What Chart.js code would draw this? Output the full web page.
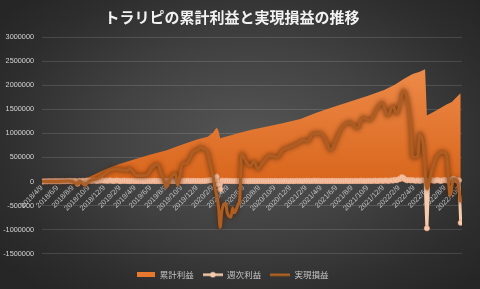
<!DOCTYPE html>
<html>
<head>
<meta charset="utf-8">
<script src="https://cdn.jsdelivr.net/npm/chart.js@4"></script>
<style>
html,body{margin:0;padding:0;}
body{width:480px;height:289px;overflow:hidden;
background:radial-gradient(ellipse 65% 70% at 52% 48%, #555555 0%, #424242 45%, #2e2e2e 80%, #262626 100%);}
#wrap{position:relative;width:480px;height:289px;}
</style>
</head>
<body>
<div id="wrap"><canvas id="c" width="480" height="289"></canvas></div>
<script>
const chartTitle = 'トラリピの累計利益と実現損益の推移';
const seriesNames = ['累計利益', '週次利益', '実現損益'];
const tickLabels = ['2018/4/9','2018/6/9','2018/8/9','2018/10/9','2018/12/9','2019/2/9','2019/4/9','2019/6/9','2019/8/9','2019/10/9','2019/12/9','2020/2/9','2020/4/9','2020/6/9','2020/8/9','2020/10/9','2020/12/9','2021/2/9','2021/4/9','2021/6/9','2021/8/9','2021/10/9','2021/12/9','2022/2/9','2022/4/9','2022/6/9','2022/8/9','2022/10/9'];
const startDate = '2018/4/9';

// 累計利益 (week number since start, value)
const cumWeeks = [0,8,17,23,26,31,36,43,52,61,70,78,87,93,96,98,99,100,104,111,117,125,135,145,154,163,173,183,192,198,203,208,212,215,216,221,227,230,234,235];
const cumValues = [0,10000,30000,60000,90000,170000,260000,360000,460000,560000,650000,760000,870000,930000,1020000,1120000,1060000,900000,940000,1010000,1070000,1130000,1210000,1300000,1430000,1540000,1660000,1780000,1900000,2010000,2130000,2230000,2280000,2330000,1370000,1470000,1600000,1650000,1800000,1830000];

// 実現損益 (week number, value)
const realWeeks = [0,8,15,17,20,21,24,27,31,35,38,42,44,48,49,53,56,59,62,65,67,69,70,72,75,76,79,81,85,87,89,90,93,94,96,97,99,100,101,103,104,106,107,108,110,111,112,114,115,117,119,121,124,128,132,135,139,143,147,149,152,156,159,162,166,169,173,177,180,184,188,191,194,197,199,203,205,207,208,211,212,214,216,219,222,225,227,229,231,233,235];
const realValues = [0,0,10000,0,-60000,10000,-70000,20000,60000,150000,230000,260000,245000,230000,265000,130000,120000,140000,300000,360000,150000,-40000,-115000,60000,160000,-70000,370000,380000,620000,650000,710000,690000,600000,430000,100000,-115000,-500000,-950000,-600000,-450000,-650000,-740000,-550000,-650000,-480000,-350000,580000,450000,380000,320000,420000,260000,400000,540000,500000,650000,715000,780000,860000,830000,990000,1000000,880000,650000,960000,1150000,1230000,1100000,1330000,1270000,1510000,1640000,1360000,1580000,1400000,1890000,1700000,1100000,500000,520000,1000000,750000,-150000,260000,540000,610000,550000,-290000,60000,20000,-430000];

// 週次利益 (one value per week, week 0 .. 235)
const weeklyValues = [
0,2000,5000,3000,8000,4000,6000,9000,5000,7000,3000,8000,
10000,6000,12000,9000,15000,4000,11000,8000,-45000,14000,10000,16000,
-35000,18000,12000,20000,15000,22000,17000,13000,21000,19000,24000,16000,
20000,14000,23000,18000,12000,17000,21000,15000,9000,13000,19000,11000,
14000,8000,12000,16000,10000,13000,9000,15000,11000,7000,12000,10000,
14000,9000,11000,16000,8000,12000,10000,13000,7000,15000,11000,9000,
17000,12000,14000,10000,19000,13000,16000,11000,15000,12000,18000,10000,
13000,16000,12000,11000,14000,9000,15000,12000,17000,20000,25000,30000,
40000,35000,95000,-60000,-160000,20000,15000,12000,18000,10000,14000,11000,
9000,13000,8000,12000,10000,15000,9000,11000,7000,13000,10000,12000,
8000,11000,14000,9000,12000,7000,10000,13000,8000,11000,9000,14000,
10000,8000,12000,9000,11000,15000,8000,10000,13000,9000,12000,16000,
11000,14000,10000,13000,17000,12000,15000,11000,14000,18000,12000,16000,
13000,10000,15000,12000,9000,14000,11000,16000,12000,10000,15000,13000,
11000,14000,12000,17000,10000,13000,15000,11000,16000,12000,14000,18000,
13000,15000,11000,17000,14000,12000,16000,19000,13000,15000,20000,14000,
17000,22000,15000,18000,24000,20000,35000,28000,45000,60000,90000,70000,
40000,25000,30000,22000,28000,20000,18000,24000,15000,22000,26000,30000,
-970000,20000,35000,25000,18000,22000,28000,20000,15000,25000,30000,22000,
18000,20000,45000,60000,30000,20000,25000,-855000];

function dayOf(s){const p=s.split('/').map(Number);return Date.UTC(p[0],p[1]-1,p[2])/86400000;}
const day0 = dayOf(startDate);
const tickDays = tickLabels.map(s => dayOf(s) - day0);

const cumPts = cumWeeks.map((w,i)=>({x:w*7,y:cumValues[i]}));
const realPts = realWeeks.map((w,i)=>({x:w*7,y:realValues[i]}));
const weekPts = weeklyValues.map((v,i)=>({x:i*7,y:v}));

function icon(w,h,draw){const c=document.createElement('canvas');c.width=w;c.height=h;draw(c.getContext('2d'));return c;}
const icons = [
  icon(18,5,g=>{g.fillStyle='#E8782E';g.fillRect(0,0,18,5);}),
  icon(20,7,g=>{g.strokeStyle='#F8CBAD';g.lineWidth=2.5;g.beginPath();g.moveTo(0,3.5);g.lineTo(20,3.5);g.stroke();g.fillStyle='#F8CBAD';g.beginPath();g.arc(10,3.5,2.8,0,Math.PI*2);g.fill();}),
  icon(20,4,g=>{g.strokeStyle='#B2611F';g.lineWidth=2.5;g.beginPath();g.moveTo(0,2);g.lineTo(20,2);g.stroke();})
];

const glow = {
  id:'glow',
  beforeDatasetDraw(chart,args){const ds=chart.data.datasets[args.index];if(ds.glow){const c=chart.ctx;c.save();c.shadowColor=ds.glow.color;c.shadowBlur=ds.glow.blur;c.shadowOffsetX=ds.glow.dx||0;c.shadowOffsetY=ds.glow.dy||0;}},
  afterDatasetDraw(chart,args){if(chart.data.datasets[args.index].glow)chart.ctx.restore();}
};

const CJK = "'Noto Sans CJK JP', 'Noto Sans', sans-serif";
const LAT = "'Liberation Sans', Arial, sans-serif";

new Chart(document.getElementById('c'), {
  type:'line',
  data:{datasets:[
    {label:seriesNames[0], data:cumPts, fill:'origin', borderWidth:0, pointRadius:0, order:3,
     backgroundColor:(ctx)=>{const ca=ctx.chart.chartArea;if(!ca)return '#E0701F';const ys=ctx.chart.scales.y;const g=ctx.chart.ctx.createLinearGradient(0,ys.getPixelForValue(2400000),0,ys.getPixelForValue(0));g.addColorStop(0,'#EE8B4A');g.addColorStop(1,'#D9661C');return g;},
     glow:{color:'rgba(0,0,0,0.55)',blur:5,dx:1,dy:1}},
    {label:seriesNames[1], data:weekPts, borderColor:'#F8CBAD', borderWidth:3, pointRadius:2.6, pointBorderWidth:0.8,
     pointBackgroundColor:'#F8CBAD', pointBorderColor:'#EBA887', tension:0, order:2},
    {label:seriesNames[2], data:realPts, borderColor:'#AE5E22', borderWidth:3, pointRadius:0, tension:0.3, cubicInterpolationMode:'monotone', order:1,
     glow:{color:'rgba(70,30,5,0.9)',blur:5}}
  ]},
  options:{
    responsive:false, animation:false, devicePixelRatio:1,
    layout:{padding:{left:2,right:18,top:0,bottom:0}},
    plugins:{
      title:{display:true,text:chartTitle,color:'#f2f2f2',font:{family:CJK,size:15,weight:'bold'},padding:{top:8,bottom:11}},
      legend:{position:'bottom',
        title:{display:true,text:'',font:{size:1},padding:{top:6.5,bottom:0}},
        labels:{color:'#c4c4c4',font:{family:CJK,size:8.5},usePointStyle:true,pointStyleWidth:20,padding:9,
          sort:(a,b)=>a.datasetIndex-b.datasetIndex,
          generateLabels:(chart)=>{const items=Chart.defaults.plugins.legend.labels.generateLabels(chart);items.forEach(it=>{it.pointStyle=icons[it.datasetIndex];it.fontColor='#c4c4c4';});return items;}}},
      tooltip:{enabled:false}
    },
    scales:{
      x:{type:'linear',min:0,max:1650,position:{y:0},
        grid:{display:false,drawTicks:false},border:{display:false},
        afterBuildTicks:(s)=>{s.ticks=tickDays.map(v=>({value:v}));},
        ticks:{autoSkip:false,minRotation:45,maxRotation:45,color:'#c0c0c0',font:{family:LAT,size:7.3},padding:2,
          callback:(v,i)=>tickLabels[i]}},
      y:{min:-1500000,max:3000000,
        afterFit:(s)=>{s.width=40;},
        grid:{color:'rgba(255,255,255,0.13)',drawTicks:false,lineWidth:1},border:{display:false},
        ticks:{stepSize:500000,color:'#d4d4d4',font:{family:LAT,size:7.3},padding:8,callback:(v)=>String(v)}}
    }
  },
  plugins:[glow]
});
</script>
</body>
</html>
